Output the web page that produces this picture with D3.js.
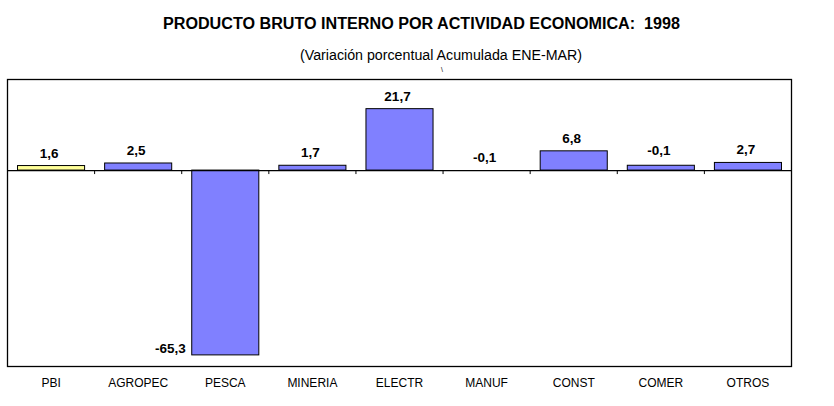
<!DOCTYPE html>
<html>
<head>
<meta charset="utf-8">
<script src="https://cdn.jsdelivr.net/npm/d3@7"></script>
<style>
    body { margin: 0; background: #fff; }
    text { font-family: Arial, "Liberation Sans", sans-serif; white-space: pre; }
</style>
</head>
<body>
<div class="bar_chart"></div>
<script>
// data
const categories = ['PBI', 'AGROPEC', 'PESCA', 'MINERIA', 'ELECTR', 'MANUF', 'CONST', 'COMER', 'OTROS'];
const values = [1.6, 2.5, -65.3, 1.7, 21.7, -0.1, 6.8, 1.7, 2.7];
const valueLabels = ['1,6', '2,5', '-65,3', '1,7', '21,7', '-0,1', '6,8', '-0,1', '2,7'];
const yDomain = [-69.4, 32];

const svgWidth = 834, svgHeight = 406;
const margin = { top: 79.5, right: 42.5, bottom: 39.5, left: 7.5 },
    width = svgWidth - margin.left - margin.right,
    height = svgHeight - margin.top - margin.bottom;

let svg = d3.select('.bar_chart')
    .append('svg')
    .attr('width', svgWidth)
    .attr('height', svgHeight);

// titles
svg.append('text')
    .attr('x', 421.5)
    .attr('y', 28.5)
    .attr('text-anchor', 'middle')
    .attr('font-size', 16)
    .attr('font-weight', 'bold')
    .attr('textLength', 517)
    .attr('lengthAdjust', 'spacingAndGlyphs')
    .text('PRODUCTO BRUTO INTERNO POR ACTIVIDAD ECONOMICA:  1998');

svg.append('text')
    .attr('x', 441)
    .attr('y', 60)
    .attr('text-anchor', 'middle')
    .attr('font-size', 14)
    .attr('textLength', 282)
    .attr('lengthAdjust', 'spacingAndGlyphs')
    .text('(Variación porcentual Acumulada ENE-MAR)');

svg.append('text')
    .attr('x', 442)
    .attr('y', 72)
    .attr('text-anchor', 'middle')
    .attr('font-size', 7)
    .text('\\');

let group = svg.append('g')
    .attr('transform', `translate(${margin.left},${margin.top})`);

let xScale = d3.scaleBand()
    .domain(categories)
    .range([0, width])
    .paddingInner(0.23)
    .paddingOuter(0.115);

let xTicks = d3.scaleBand()
    .domain(categories)
    .range([0, width]);

let yScale = d3.scaleLinear()
    .domain(yDomain)
    .range([height, 0]);

// frame
group.append('rect')
    .attr('width', width)
    .attr('height', height)
    .attr('fill', 'none')
    .attr('stroke', '#000')
    .attr('stroke-width', 1.3);

// bars
group.selectAll('.bar')
    .data(values)
    .enter()
    .append('rect')
    .attr('class', 'bar')
    .attr('x', (d, i) => xScale(categories[i]))
    .attr('width', xScale.bandwidth())
    .attr('y', d => yScale(Math.max(0, d)))
    .attr('height', d => Math.abs(yScale(d) - yScale(0)))
    .attr('fill', (d, i) => i === 0 ? '#ffff99' : '#8080ff')
    .attr('stroke', '#000')
    .attr('stroke-width', d => Math.abs(d) < 0.5 ? 0 : 1);

// zero axis with ticks between categories
const xAxis = d3.axisBottom(xTicks)
    .tickValues(categories.slice(1))
    .tickSize(4)
    .tickFormat('')
    .tickSizeOuter(0);

group.append('g')
    .attr('class', 'axis x-axis')
    .attr('transform', `translate(0,${yScale(0)})`)
    .call(xAxis)
    .call(g => g.selectAll('.tick').attr('transform', d => `translate(${xTicks(d)},0)`))
    .call(g => g.select('.domain').attr('stroke-width', 1.3))
    .call(g => g.selectAll('.tick line').attr('stroke', '#000'));

// category labels
group.selectAll('.cat')
    .data(categories)
    .enter()
    .append('text')
    .attr('class', 'cat')
    .attr('x', d => xTicks(d) + xTicks.bandwidth() / 2)
    .attr('y', height + 20)
    .attr('text-anchor', 'middle')
    .attr('font-size', 12)
    .text(d => d);

// value labels
group.selectAll('.val')
    .data(values)
    .enter()
    .append('text')
    .attr('class', 'val')
    .attr('x', (d, i) => d < -10
        ? xScale(categories[i]) - 6
        : xScale(categories[i]) + xScale.bandwidth() / 2 - 2)
    .attr('y', (d, i) => d < -10 ? yScale(d) - 2 : yScale(Math.max(0, d)) - 8 - (valueLabels[i] !== String(d).replace('.', ',') ? 2 : 0))
    .attr('text-anchor', d => d < -10 ? 'end' : 'middle')
    .attr('font-size', 13.5)
    .attr('font-weight', 'bold')
    .text((d, i) => valueLabels[i]);
</script>
</body>
</html>
